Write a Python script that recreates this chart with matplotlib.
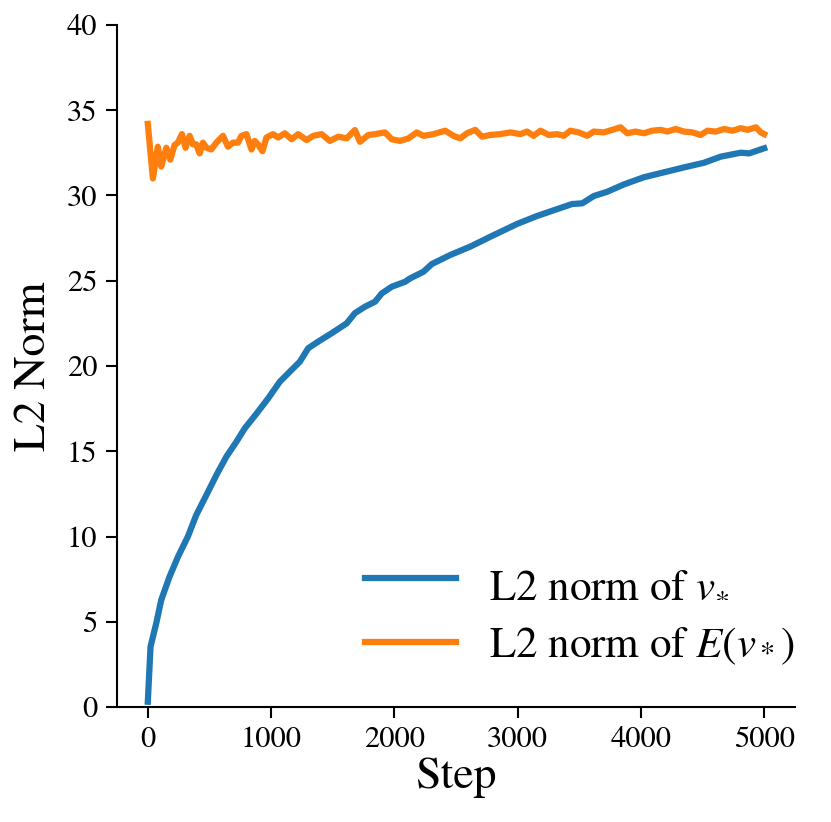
import matplotlib
matplotlib.use("Agg")
import matplotlib.pyplot as plt

plt.rcParams['font.family'] = ['STIXGeneral', 'Liberation Serif', 'DejaVu Serif']
plt.rcParams['mathtext.fontset'] = 'stix'

# L2 norm of v_* (blue)
blue_steps = [0, 22, 68, 109, 176, 244, 325, 393, 475, 556, 637, 719, 786, 881, 976,
              1071, 1166, 1233, 1301, 1382, 1491, 1613, 1680, 1762, 1843, 1898, 1979,
              2087, 2128, 2236, 2304, 2453, 2615, 2778, 2995, 3158, 3320, 3442, 3524,
              3618, 3727, 3862, 4024, 4187, 4350, 4512, 4648, 4810, 4878, 5000]
blue_vals = [0.31, 3.54, 4.9, 6.28, 7.64, 8.8, 10.0, 11.26, 12.43, 13.6, 14.68, 15.56,
             16.34, 17.2, 18.1, 19.08, 19.77, 20.25, 21.04, 21.43, 21.92, 22.5, 23.1,
             23.48, 23.77, 24.26, 24.65, 24.94, 25.14, 25.53, 25.98, 26.51, 27.0, 27.58,
             28.33, 28.8, 29.2, 29.5, 29.54, 29.97, 30.22, 30.65, 31.07, 31.36, 31.65,
             31.92, 32.28, 32.51, 32.47, 32.77]

# L2 norm of E(v_*) (orange)
orange_steps = [0, 41, 81, 109, 150, 182, 217, 244, 277, 306, 339, 366, 393, 420, 447,
                475, 515, 556, 583, 610, 650, 691, 732, 759, 800, 841, 867, 894, 930,
                962, 1016, 1057, 1111, 1166, 1220, 1288, 1342, 1410, 1477, 1545, 1613,
                1680, 1721, 1789, 1843, 1924, 1979, 2046, 2114, 2182, 2236, 2317, 2412,
                2480, 2534, 2589, 2656, 2711, 2778, 2859, 2941, 3022, 3076, 3130, 3185,
                3252, 3320, 3374, 3428, 3496, 3564, 3618, 3699, 3767, 3835, 3889, 3957,
                4024, 4092, 4160, 4215, 4282, 4350, 4418, 4485, 4540, 4607, 4675, 4743,
                4810, 4865, 4933, 4973, 5000]
orange_vals = [34.2, 31.0, 32.86, 31.7, 32.8, 32.1, 32.96, 33.1, 33.6, 32.8, 33.5, 33.0,
               33.0, 32.47, 33.1, 32.8, 32.7, 33.1, 33.3, 33.5, 32.86, 33.1, 33.1, 33.5,
               33.6, 32.7, 33.2, 33.0, 32.6, 33.4, 33.6, 33.4, 33.65, 33.3, 33.6, 33.25,
               33.5, 33.6, 33.2, 33.45, 33.35, 33.84, 33.15, 33.55, 33.6, 33.7, 33.3, 33.2,
               33.35, 33.7, 33.5, 33.6, 33.8, 33.5, 33.35, 33.65, 33.85, 33.45, 33.55, 33.6,
               33.7, 33.6, 33.75, 33.5, 33.8, 33.55, 33.6, 33.5, 33.8, 33.7, 33.5, 33.75,
               33.7, 33.85, 34.0, 33.65, 33.75, 33.65, 33.8, 33.85, 33.75, 33.9, 33.75, 33.7,
               33.55, 33.8, 33.75, 33.9, 33.8, 33.95, 33.85, 34.0, 33.7, 33.6]

labels = [r'L2 norm of $v_{*}^{}$', r'L2 norm of $E(v_*)$']
x_ticks = [0, 1000, 2000, 3000, 4000, 5000]
y_ticks = [0, 5, 10, 15, 20, 25, 30, 35, 40]

fig = plt.figure(figsize=(8.31, 8.22), dpi=100)
ax = fig.add_axes([117 / 831, 1 - 707 / 822, (795 - 117) / 831, (707 - 25) / 822])

ax.plot(blue_steps, blue_vals, color='#1f77b4', lw=4.5, label=labels[0],
        solid_joinstyle='round')
ax.plot(orange_steps, orange_vals, color='#ff7f0e', lw=4.5, label=labels[1],
        solid_joinstyle='round')

ax.set_ylim(0, 40)
ax.set_xlim(-250, 5250)
ax.set_xticks(x_ticks)
ax.set_yticks(y_ticks)
ax.tick_params(axis='both', labelsize=22, length=8, width=1.5, pad=6, direction='out')
for s in ['top', 'right']:
    ax.spines[s].set_visible(False)
for s in ['left', 'bottom']:
    ax.spines[s].set_linewidth(1.5)

ax.set_xlabel('Step', fontsize=33, labelpad=2)
ax.set_ylabel('L2 Norm', fontsize=33, labelpad=8)

leg = ax.legend(loc='lower right', frameon=False, fontsize=31, handlelength=2.1,
                handletextpad=0.76, labelspacing=0.53, borderaxespad=0.0,
                bbox_to_anchor=(1.025, 0.034))

fig.savefig('out.png', dpi=100)
